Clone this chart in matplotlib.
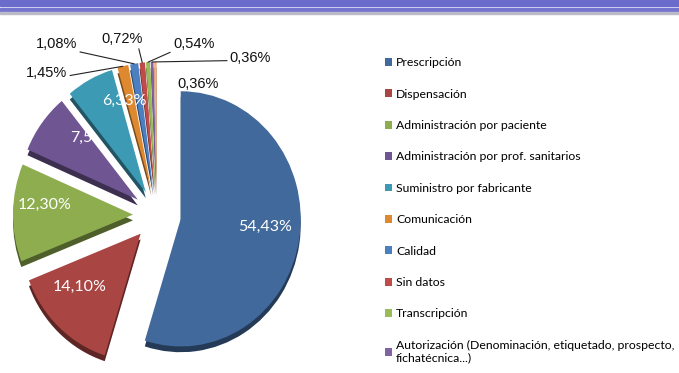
import matplotlib.pyplot as plt
from matplotlib.patches import Rectangle
import matplotlib.colors as mcolors
import numpy as np

categorias = ['Prescripción', 'Dispensación', 'Administración por paciente',
              'Administración por prof. sanitarios', 'Suministro por fabricante',
              'Comunicación', 'Calidad', 'Sin datos', 'Transcripción',
              'Autorización (Denominación, etiquetado, prospecto,\nfichatécnica...)',
              '']
porcentajes = [54.43, 14.10, 12.30, 7.59, 6.33, 1.45, 1.08, 0.72, 0.54, 0.36, 0.36]
etiquetas = ['54,43%', '14,10%', '12,30%', '7,59%', '6,33%', '1,45%', '1,08%',
             '0,72%', '0,54%', '0,36%', '0,36%']
colores = ['#41699C', '#A94543', '#8DAD4F', '#6F5592', '#3C9AB4', '#DE8830',
           '#4B7FC0', '#C04B48', '#9BBB59', '#8064A2', '#F0B088']

fig = plt.figure(figsize=(6.79, 3.73), dpi=100)

# cabecera de la diapositiva
fig.patches.append(Rectangle((0, 1 - 6/373), 1, 6/373, transform=fig.transFigure,
                             color='#6B6BCB', zorder=0))
fig.patches.append(Rectangle((0, 1 - 11/373), 1, 3/373, transform=fig.transFigure,
                             color='#7474D0', zorder=0))
fig.patches.append(Rectangle((0, 1 - 14/373), 1, 2/373, transform=fig.transFigure,
                             color='#BBBBC8', zorder=0))

# ejes en pixeles: 1 unidad = 120 px en x y 127.6 px en y (pastel algo inclinado)
ax = fig.add_axes([0, 0, 340/679, 353/373])
RX, RY = 120.0, 127.6
cx, cy = 157, 215
explode = [0.2] * len(porcentajes)

sombras = [tuple(np.array(mcolors.to_rgb(c)) * 0.55) for c in colores]
sombra_w, _ = ax.pie(porcentajes, explode=explode, colors=sombras, startangle=90,
                     counterclock=False, center=(0, -0.045),
                     wedgeprops=dict(edgecolor='none'))
wedges, _ = ax.pie(porcentajes, explode=explode, colors=colores, startangle=90,
                   counterclock=False, wedgeprops=dict(edgecolor='none'))

# el sector de suministro tapa parte de la etiqueta vecina, como en el original
sombra_w[4].set_zorder(4)
wedges[4].set_zorder(4.1)

ax.set_xlim(-cx / RX, (340 - cx) / RX)
ax.set_ylim(-(373 - cy) / RY, (353 - (373 - cy)) / RY)
ax.set_aspect('auto')
ax.axis('off')

# etiquetas blancas dentro de los sectores grandes (distancia, giro en grados)
pos_int = [(0.71, 3.4), (0.66, -7.4), (0.74, -4.9), (0.62, -15), (0.74, -14)]
textos = []
for w, txt, (d, giro) in zip(wedges[:5], etiquetas[:5], pos_int):
    ang = np.deg2rad((w.theta1 + w.theta2) / 2 + giro)
    x = w.center[0] + d * np.cos(ang)
    y = w.center[1] + d * np.sin(ang)
    textos.append(ax.text(x, y, txt, color='white', fontsize=11.5, family='Lato',
                          ha='center', va='center', zorder=5))
textos[3].set_zorder(3)  # 7,59% queda bajo el sector turquesa

# etiquetas de los sectores pequenos, con lineas guia
guias = [((-40, -5), 'right', 'center', (1, 0.3), True),
         ((-41, 9), 'right', 'bottom', (1, 0.0), True),
         ((0, 12), 'right', 'bottom', (0.9, 0.0), True),
         ((18, 8), 'left', 'bottom', (0, 0.0), True),
         ((56, 3), 'left', 'center', (0, 0.3), True),
         ((31, -16), 'center', 'center', (0.5, 0.5), False)]
for w, txt, (off, ha, va, rel, linea) in zip(wedges[5:], etiquetas[5:], guias):
    ang = np.deg2rad((w.theta1 + w.theta2) / 2)
    x = w.center[0] + w.r * np.cos(ang)
    y = w.center[1] + w.r * np.sin(ang)
    props = dict(arrowstyle='-', color='#222222', lw=0.8, shrinkA=0, shrinkB=0,
                 relpos=rel) if linea else None
    ax.annotate(txt, xy=(x, y), xytext=off, textcoords='offset points',
                ha=ha, va=va, fontsize=10.5,
                family=['Liberation Sans Narrow', 'Liberation Sans'],
                color='#111111', arrowprops=props, annotation_clip=False)

fig.legend(handles=wedges[:10], labels=categorias[:10], loc='upper left',
           bbox_to_anchor=(379/679, 1 - 51/373), frameon=False, borderpad=0,
           labelspacing=1.67, handlelength=0.6, handleheight=0.6,
           handletextpad=0.3, prop={'family': 'Lato', 'size': 8.8})

fig.savefig('out.png', dpi=100)
